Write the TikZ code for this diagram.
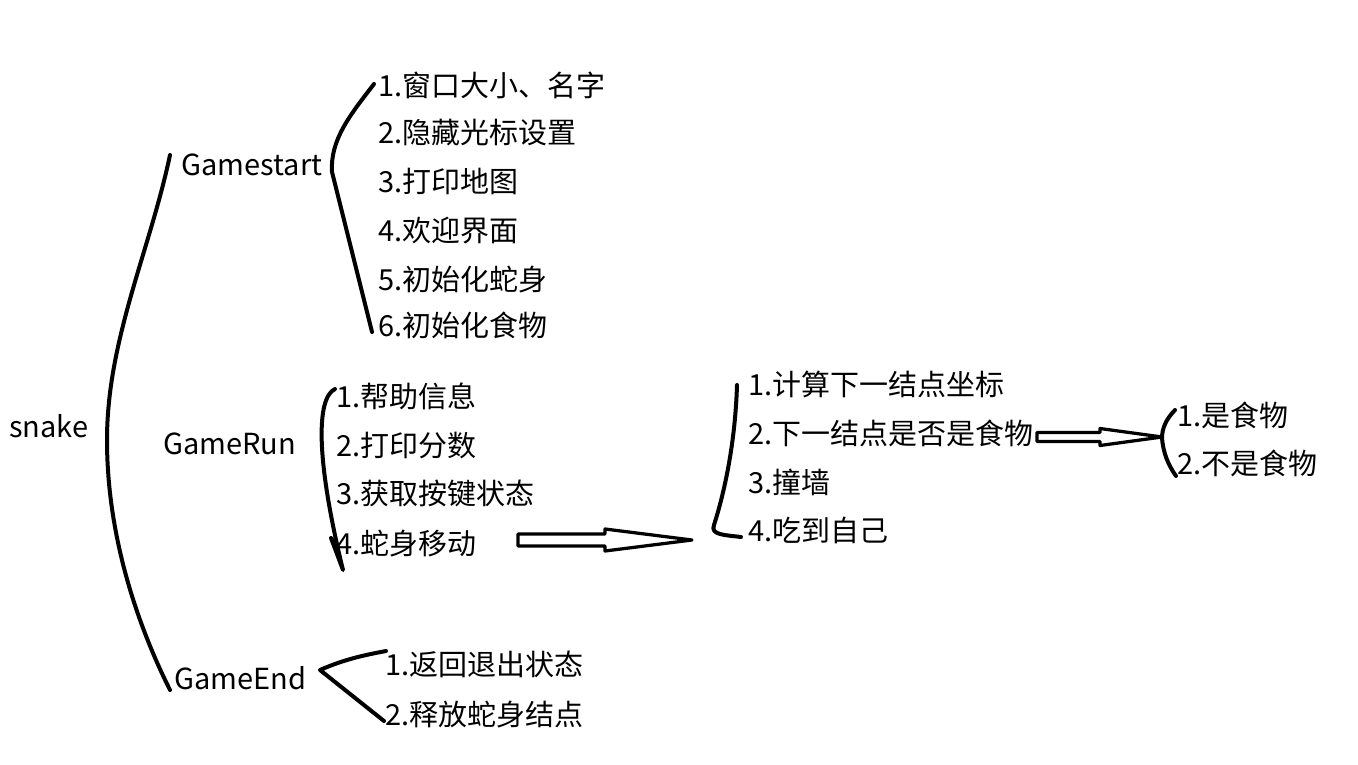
\documentclass[tikz,border=0pt]{standalone}
\usepackage{fontspec}
\newfontfamily\cjk{Noto Sans CJK SC}
\usetikzlibrary{positioning,arrows.meta,calc}

\tikzset{
  item/.style={anchor=west, inner sep=0pt, font=\cjk\fontsize{16.5}{20}\selectfont, text height=1.03em, text depth=0pt},
  pen/.style={line width=0.08cm, line cap=round, line join=round},
  hollow/.style={line width=0.065cm, line join=round, line cap=round, fill=white},
}

\begin{document}
\begin{tikzpicture}[x=0.02cm, y=-0.02cm]
\useasboundingbox (0,0) rectangle (1358,764);

% Root and first level
\node[item] (root) at (9,428) {snake};
\node[item] (gs) at (181,166) {Gamestart};
\node[item] (gr) at (163,445) {GameRun};
\node[item] (ge) at (174,680) {GameEnd};

% Gamestart items
\foreach \i/\y/\txt in {1/87/窗口大小、名字, 2/134/隐藏光标设置, 3/183/打印地图, 4/232/欢迎界面, 5/281/初始化蛇身, 6/327/初始化食物} {
  \node[item] (gs\i) at (378,\y) {\i.\txt};
}

% GameRun items
\foreach \i/\y/\txt in {1/398/帮助信息, 2/447/打印分数, 3/495/获取按键状态, 4/545/蛇身移动} {
  \node[item] (gr\i) at (336,\y) {\i.\txt};
}

% GameEnd items
\foreach \i/\y/\txt in {1/666/返回退出状态, 2/716/释放蛇身结点} {
  \node[item] (ge\i) at (385,\y) {\i.\txt};
}

% Snake move steps
\foreach \i/\y/\txt in {1/386/计算下一结点坐标, 2/435/下一结点是否是食物, 3/484/撞墙, 4/532/吃到自己} {
  \node[item] (mv\i) at (748,\y) {\i.\txt};
}

% Food check
\foreach \i/\y/\txt in {1/417/是食物, 2/465/不是食物} {
  \node[item] (fd\i) at (1177,\y) {\i.\txt};
}

% Braces
\coordinate (rtop) at (170,155);
\coordinate (rbot) at (170,690);
\draw[pen] (rtop) .. controls (150,250) and (107,340) .. (107,440)
  .. controls (107,540) and (140,630) .. (rbot);

\coordinate (gstop) at (374,84);
\coordinate (gsbot) at (372,332);
\draw[pen] (gstop) .. controls (350,115) and (330,140) .. (332,172) -- (gsbot);

\coordinate (grtop) at (335,389);
\coordinate (grtip) at (343,570);
\draw[pen] (grtop) .. controls (316,398) and (316,460) .. (grtip) -- (331,538);

\coordinate (getop) at (386,651);
\coordinate (gebot) at (384,721);
\draw[pen] (getop) .. controls (365,655) and (345,659) .. (320,670) -- (gebot);

\coordinate (mvtop) at (737,385);
\coordinate (mvbot) at (741,537);
\draw[pen] (mvtop) .. controls (735,450) and (722,500) .. (714,525)
  .. controls (710,535) and (725,535) .. (mvbot);

\coordinate (fdtop) at (1175,410);
\coordinate (fdbot) at (1176,476);
\draw[pen] (fdtop) .. controls (1165,420) and (1162,430) .. (1162,438)
  .. controls (1163,452) and (1168,465) .. (fdbot);

% Hollow arrows
\coordinate (mvtail) at (518,540);
\coordinate (mvtip) at (692,540);
\draw[hollow] (mvtail) ++(0,-6) -- ++(87,0) -- ++(0,-5) -- (mvtip)
  -- ++(-87,11) -- ++(0,-5) -- ++(-87,0) -- cycle;

\coordinate (fdtail) at (1037,437);
\coordinate (fdtip) at (1162,437);
\draw[hollow] (fdtail) ++(0,-4.5) -- ++(63,0) -- ++(0,-4) -- (fdtip)
  -- ++(-62,8.5) -- ++(0,-4) -- ++(-63,0) -- cycle;

\end{tikzpicture}
\end{document}
